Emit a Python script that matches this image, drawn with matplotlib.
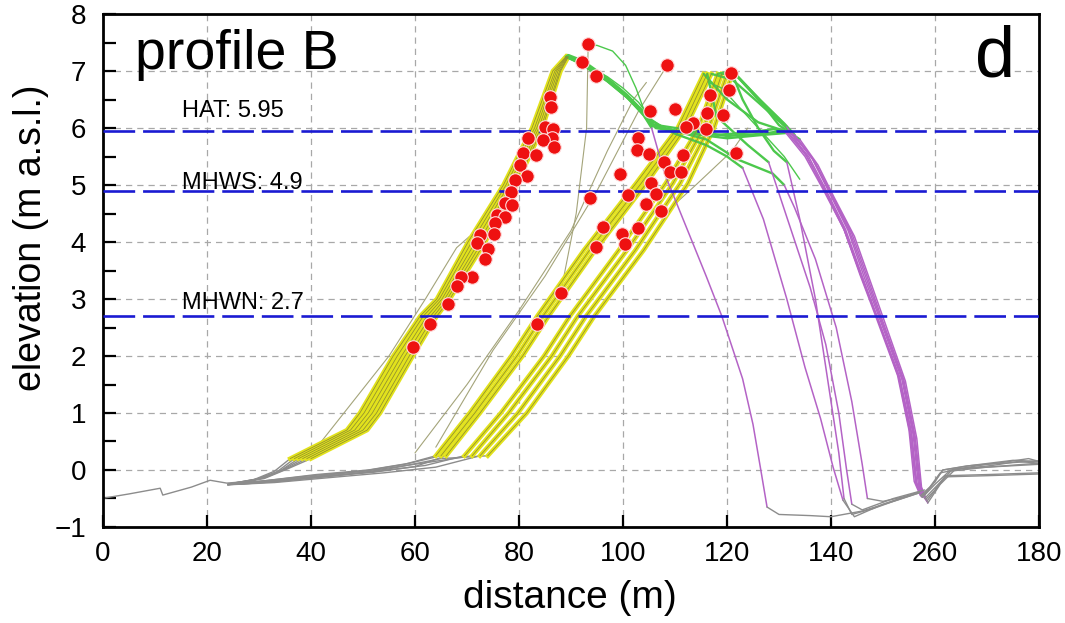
import matplotlib
matplotlib.use('Agg')
from matplotlib import pyplot as plt
from matplotlib.ticker import MultipleLocator

plt.rcParams['font.family'] = ['Liberation Sans', 'DejaVu Sans']

# tide levels (m a.s.l.)
tide_names = ['HAT: 5.95', 'MHWS: 4.9', 'MHWN: 2.7']
tide_levels = [5.95, 4.9, 2.7]
tide_label_y = [6.19, 4.93, 2.83]

x_ticks = [0, 20, 40, 60, 80, 100, 120, 140, 160, 180]
x_tick_labels = ['0', '20', '40', '60', '80', '100', '120', '140', '260', '180']

# long seaward beach line
beach_x = [0.4, 5, 11, 11.5, 17, 20.6, 23.8, 28, 32]
beach_y = [-0.49, -0.42, -0.32, -0.44, -0.3, -0.18, -0.23, -0.2, -0.1]

# ---- seaward dune (crest near 89 m) ----
g1_toe_x = [[24, 29, 33, 36.0], [24, 29, 33.5, 36.8], [25, 30, 34, 37.6],
            [24, 30, 34.5, 38.4], [25, 31, 35, 39.2], [24, 31, 35.5, 40.0]]
g1_toe_y = [[-0.25, -0.17, -0.02, 0.2], [-0.26, -0.18, -0.03, 0.2], [-0.24, -0.16, -0.02, 0.2],
            [-0.25, -0.15, 0.0, 0.2], [-0.23, -0.14, 0.01, 0.2], [-0.26, -0.15, 0.02, 0.2]]
g1_front_y = [0.2, 0.7, 1.0, 2.0, 2.7, 3.0, 4.0, 5.0, 6.0, 7.0, 7.25]
g1_front_x = [[36.0, 46.9, 49.4, 55.8, 61.0, 64.2, 70.2, 77.0, 82.5, 86.5, 89.0],
              [36.8, 47.6, 50.2, 56.6, 61.6, 64.7, 70.9, 77.5, 83.0, 86.9, 89.1],
              [37.6, 48.4, 51.0, 57.4, 62.3, 65.2, 71.6, 78.0, 83.4, 87.2, 89.2],
              [38.4, 49.2, 51.8, 58.1, 63.0, 65.7, 72.3, 78.5, 83.8, 87.5, 89.3],
              [39.2, 50.0, 52.6, 58.9, 63.6, 66.2, 72.9, 79.0, 84.2, 87.8, 89.4],
              [40.0, 50.8, 53.3, 59.6, 64.2, 66.7, 73.5, 79.5, 84.5, 88.0, 89.5]]
g1_crest_x = [[89.0, 91.5, 96.5, 100.5, 103.5, 105.5, 110, 116, 122, 128.8, 131],
              [89.1, 92, 97, 101, 104, 105.5],
              [89.2, 92.5, 97.2, 101, 104, 106, 112, 118, 124, 129, 131.8],
              [89.3, 92.8, 97.5, 101.3, 104.3, 106.3, 113, 120, 127, 132.4],
              [89.4, 93, 98, 102, 105, 110, 116, 120, 123],
              [89.5, 92.3, 96.9, 100.8, 103.8, 105.8, 113, 120, 127, 131.2]]
g1_crest_y = [[7.25, 7.15, 6.86, 6.56, 6.28, 6.04, 5.95, 5.8, 5.45, 5.2, 5.0],
              [7.25, 7.12, 6.82, 6.52, 6.22, 6.0],
              [7.26, 7.14, 6.84, 6.55, 6.27, 6.03, 5.92, 5.88, 5.92, 5.98, 5.92],
              [7.27, 7.12, 6.8, 6.5, 6.22, 6.0, 5.9, 5.82, 5.88, 5.92],
              [7.24, 7.1, 6.78, 6.45, 6.15, 5.9, 5.7, 5.5, 5.3],
              [7.28, 7.18, 6.88, 6.58, 6.3, 6.06, 5.96, 5.86, 5.9, 5.96]]
g1_back_x = [[131, 133, 137, 141, 144, 146, 147],
             [105.5, 108, 112, 116, 119, 123, 125, 126.5, 127.7],
             [131.8, 135.7, 139, 142.8, 146, 148.6, 153, 155.2, 156.3, 157.4],
             [132.4, 136.3, 139.5, 143.3, 146.4, 149, 153.6, 155.8, 156.8, 158],
             [123, 127, 131.5, 135, 138, 140.4, 142.3],
             [131.2, 135.2, 138.6, 142.4, 145.6, 148.3, 152.8, 155, 156, 157.2]]
g1_back_y = [[5.0, 4.6, 3.7, 2.5, 1.2, 0.1, -0.5],
             [6.0, 5.2, 4.3, 3.4, 2.7, 1.6, 0.8, 0.0, -0.65],
             [5.92, 5.5, 4.92, 4.22, 3.4, 2.75, 1.63, 0.65, -0.23, -0.47],
             [5.92, 5.48, 4.9, 4.2, 3.38, 2.74, 1.6, 0.62, -0.25, -0.5],
             [5.3, 4.4, 3.0, 1.8, 0.9, 0.05, -0.53],
             [5.96, 5.52, 4.95, 4.25, 3.42, 2.77, 1.66, 0.7, -0.2, -0.45]]
g1_heel_x = [[147, 150, 155],
             [127.7, 130, 136, 140, 146, 152, 157],
             [157.4, 160, 161.5, 166, 172, 178, 180],
             [158, 162, 170, 180],
             [142.3, 144.5, 150, 157],
             [157.2, 159, 161, 165, 171, 176, 180]]
g1_heel_y = [[-0.5, -0.55, -0.45],
             [-0.65, -0.78, -0.8, -0.82, -0.72, -0.55, -0.4],
             [-0.47, -0.2, 0.0, 0.07, 0.12, 0.2, 0.15],
             [-0.5, -0.12, -0.1, -0.07],
             [-0.53, -0.82, -0.6, -0.38],
             [-0.45, -0.3, -0.05, 0.02, 0.08, 0.15, 0.12]]

# ---- landward dune (crest near 115-121 m) ----
g2_toe_x = [[24, 30, 40, 50, 58, 64.0], [25, 31, 41, 51, 59, 65.0], [24, 32, 42, 52, 60, 66.0],
            [26, 32, 42, 52, 62, 69.5], [25, 33, 43, 53, 63, 71.0], [24, 33, 44, 54, 64, 72.5],
            [26, 34, 45, 55, 65, 74.0]]
g2_toe_y = [[-0.25, -0.2, -0.1, -0.02, 0.1, 0.25], [-0.24, -0.19, -0.08, 0.0, 0.12, 0.25],
            [-0.26, -0.2, -0.12, -0.04, 0.06, 0.25], [-0.25, -0.21, -0.11, -0.03, 0.08, 0.25],
            [-0.24, -0.18, -0.09, 0.01, 0.14, 0.25], [-0.26, -0.22, -0.13, -0.05, 0.05, 0.25],
            [-0.25, -0.2, -0.1, 0.02, 0.2, 0.25]]
g2_front_y = [0.25, 1.0, 2.0, 2.7, 3.86, 5.03, 6.0, 6.95]
g2_front_x = [[64.0, 70.5, 78.5, 83.5, 92.5, 102.5, 110.5, 115.5],
              [65.0, 71.5, 79.6, 84.6, 93.6, 103.5, 111.3, 116.2],
              [66.0, 72.5, 80.7, 85.7, 94.7, 104.5, 112.0, 117.0],
              [69.5, 76.5, 84.8, 89.8, 99.2, 108.2, 114.5, 118.2],
              [71.0, 78.0, 86.3, 91.3, 100.8, 109.6, 115.5, 119.0],
              [72.5, 79.8, 87.9, 92.9, 102.4, 111.0, 116.5, 120.0],
              [74.0, 81.5, 89.5, 94.5, 104.0, 112.5, 117.5, 121.0]]
g2_crest_x = [[115.5, 120, 126, 131],
              [116.2, 118, 124, 128],
              [117, 121, 126, 130.5, 132.6],
              [118.2, 121, 125.8, 130.2, 131.5],
              [119, 121.5, 126.5, 131, 133],
              [120, 122, 127, 130, 134],
              [121, 123, 126, 129, 131.5]]
g2_crest_y = [[6.95, 6.5, 6.1, 5.95],
              [6.95, 6.2, 5.7, 5.4],
              [6.95, 6.85, 6.45, 6.08, 5.9],
              [6.95, 7.0, 6.54, 6.14, 6.02],
              [6.95, 6.96, 6.48, 6.08, 5.88],
              [6.95, 6.9, 6.4, 6.05, 5.8],
              [6.95, 6.5, 6.0, 5.6, 5.4]]
g2_back_x = [[131, 135, 138.5, 142.5, 145.8, 148.5, 153.1, 155.4, 156.4, 157.6],
             [128, 132, 136, 139, 141.5, 143, 144],
             [132.6, 136.5, 139.8, 143.6, 146.8, 149.3, 153.8, 156, 157, 158.2],
             [131.5, 135.4, 138.8, 142.6, 145.9, 148.6, 153.2, 155.5, 156.5, 157.7],
             [133, 136.8, 140, 144, 147.2, 149.6, 154, 156.2, 157.2, 158.4],
             [134, 137.5, 140.5, 144.5, 147.6, 150, 154.3, 156.5, 157.4, 158.6],
             [131.5, 134, 137, 139.5, 141.5, 142.5]]
g2_back_y = [[5.95, 5.5, 4.92, 4.22, 3.4, 2.76, 1.64, 0.66, -0.22, -0.48],
             [5.4, 4.3, 3.2, 2.2, 1.0, 0.0, -0.6],
             [5.9, 5.45, 4.88, 4.18, 3.36, 2.72, 1.6, 0.6, -0.25, -0.52],
             [6.02, 5.5, 4.9, 4.2, 3.39, 2.75, 1.63, 0.65, -0.23, -0.47],
             [5.88, 5.42, 4.86, 4.15, 3.33, 2.7, 1.58, 0.58, -0.28, -0.55],
             [5.8, 5.35, 4.8, 4.1, 3.3, 2.68, 1.56, 0.55, -0.3, -0.58],
             [5.4, 4.4, 3.0, 1.5, 0.3, -0.5]]
g2_heel_x = [[157.6, 160, 163, 170, 180],
             [144, 146, 152, 158],
             [158.2, 160, 162, 170, 180],
             [157.7, 160, 161.5, 167, 175, 180],
             [158.4, 160.5, 163, 170, 180],
             [158.6, 161, 164, 180],
             [142.5, 144, 148, 152, 157]]
g2_heel_y = [[-0.48, -0.25, 0.0, 0.1, 0.16],
             [-0.6, -0.7, -0.5, -0.35],
             [-0.52, -0.35, -0.1, -0.08, -0.05],
             [-0.47, -0.2, 0.0, 0.08, 0.17, 0.15],
             [-0.55, -0.3, -0.02, 0.05, 0.12],
             [-0.58, -0.25, 0.02, 0.1],
             [-0.5, -0.78, -0.68, -0.55, -0.4]]

# extra crest surveys (green) not tied to a front
extra_green_x = [[92.5, 95, 98, 100.5, 102.5, 104.5],
                 [91.0, 94, 97, 100, 103, 105.5, 108],
                 [116.5, 119, 123, 127, 131, 134]]
extra_green_y = [[7.45, 7.45, 7.35, 7.1, 6.7, 6.2],
                 [7.2, 7.05, 6.9, 6.7, 6.45, 6.15, 6.0],
                 [6.8, 6.7, 6.3, 5.9, 5.5, 5.1]]

# odd single surveys crossing the dune fronts
thin_x = [[60, 70, 80, 90, 97, 102, 104.5],
          [64, 75, 85, 95, 103, 108.5],
          [83.4, 88, 91, 93, 93.3],
          [108, 114, 121, 124],
          [42, 55, 62, 68, 70.5]]
thin_y = [[0.3, 1.5, 2.8, 4.2, 5.6, 6.5, 6.8],
          [0.4, 2.1, 3.4, 4.9, 6.3, 7.1],
          [2.56, 3.1, 4.5, 6.0, 7.47],
          [4.5, 5.0, 5.6, 6.0],
          [0.5, 2.0, 3.0, 3.9, 4.1]]

# red markers (vegetation line positions)
dot_x = [93.3, 92.1, 94.8, 108.5, 120.7, 120.3, 116.7, 110.0, 105.2, 116.1, 119.2, 113.5,
         112.1, 116.0, 102.9, 102.6, 105.0, 111.5, 121.7, 107.9, 109.0, 111.1, 99.4, 105.3,
         106.3, 101.0, 93.7, 104.5, 107.4, 96.1, 102.9, 99.9, 94.9, 100.4, 88.0, 83.4,
         86.0, 86.1, 85.0, 86.6, 81.8, 86.3, 84.6, 86.7, 80.8, 83.3, 80.2, 81.5,
         79.2, 78.4, 77.3, 78.6, 75.7, 77.3, 75.4, 72.5, 75.2, 72.0, 74.1, 73.5,
         70.9, 68.9, 68.1, 66.4, 62.8, 59.6]
dot_y = [7.47, 7.16, 6.91, 7.11, 6.96, 6.67, 6.58, 6.33, 6.29, 6.26, 6.23, 6.08,
         6.01, 5.98, 5.82, 5.61, 5.54, 5.53, 5.57, 5.41, 5.23, 5.23, 5.19, 5.04,
         4.85, 4.82, 4.77, 4.66, 4.55, 4.27, 4.24, 4.14, 3.91, 3.96, 3.10, 2.56,
         6.54, 6.37, 6.01, 5.98, 5.82, 5.82, 5.79, 5.66, 5.56, 5.53, 5.35, 5.15,
         5.09, 4.88, 4.68, 4.65, 4.47, 4.44, 4.34, 4.12, 4.14, 3.98, 3.87, 3.71,
         3.38, 3.39, 3.23, 2.92, 2.56, 2.16]

GRAY = '#8c8c8c'
YELLOW = '#e2e21c'
OLIVE = '#8e8e30'
GREEN = '#4cc84c'
PURPLE = '#b463c6'


# draw a set of profile pieces with one colour
def draw_pieces(ax, xs, ys, color, lw, zorder=2):
    for px, py in zip(xs, ys):
        ax.plot(px, py, color=color, lw=lw, zorder=zorder, solid_capstyle='round')


# dune front: yellow band with thin dark stripes on top
def draw_front(ax, xs, y):
    for px in xs:
        ax.plot(px, y, color=YELLOW, lw=3.2, zorder=2)
    for px in xs:
        ax.plot(px, y, color=OLIVE, lw=0.55, zorder=2.1)


fig = plt.figure(figsize=(10.65, 6.23), dpi=100)
ax = fig.add_axes([0.0967, 0.1541, 0.8789, 0.8234])

ax.plot(beach_x, beach_y, color=GRAY, lw=1.0, zorder=2)
draw_pieces(ax, g1_toe_x, g1_toe_y, GRAY, 1.0)
draw_pieces(ax, g2_toe_x, g2_toe_y, GRAY, 1.0)
draw_pieces(ax, thin_x, thin_y, '#a4a47a', 0.8)
draw_front(ax, g1_front_x, g1_front_y)
draw_front(ax, g2_front_x, g2_front_y)
draw_pieces(ax, g1_crest_x, g1_crest_y, GREEN, 1.7)
draw_pieces(ax, g2_crest_x, g2_crest_y, GREEN, 1.7)
draw_pieces(ax, extra_green_x, extra_green_y, GREEN, 1.0)
draw_pieces(ax, g1_back_x, g1_back_y, PURPLE, 1.1)
draw_pieces(ax, g2_back_x, g2_back_y, PURPLE, 1.1)
draw_pieces(ax, g1_heel_x, g1_heel_y, GRAY, 1.0)
draw_pieces(ax, g2_heel_x, g2_heel_y, GRAY, 1.0)

# tide levels
for name, level, ly in zip(tide_names, tide_levels, tide_label_y):
    ax.axhline(level, color='#1a1ad2', lw=1.9, linestyle=(0, (12, 3)), zorder=3)
    ax.text(15.2, ly, name, fontsize=17, ha='left', va='baseline', zorder=5)

ax.scatter(dot_x, dot_y, s=95, color='#ee1111', edgecolors='#ffdddd',
           linewidths=0.8, zorder=4)

ax.text(6.2, 7.28, 'profile B', fontsize=40, ha='left', va='center', zorder=5)
ax.text(171.5, 7.22, 'd', fontsize=52, ha='center', va='center', zorder=5)

ax.set_xlim(0, 180)
ax.set_ylim(-1, 8)
ax.set_xticks(x_ticks)
ax.set_xticklabels(x_tick_labels)
ax.yaxis.set_major_locator(MultipleLocator(1))
ax.yaxis.set_minor_locator(MultipleLocator(0.5))
ax.tick_params(axis='both', which='both', direction='in', width=1.6,
               length=9, labelsize=20, top=False, right=False)
ax.tick_params(axis='y', pad=12)
ax.tick_params(axis='x', pad=10)
ax.grid(True, which='major', color='#a8a8a8', lw=0.9, linestyle=(0, (5, 4)), zorder=1)
ax.set_axisbelow(True)
for s in ax.spines.values():
    s.set_linewidth(2.0)

fig.text(570 / 1065, 1 - 598 / 623, 'distance (m)', fontsize=28, ha='center', va='center')
fig.text(31 / 1065, 1 - 238 / 623, 'elevation (m a.s.l.)', fontsize=27,
         rotation=90, ha='center', va='center')

plt.savefig('out.png', dpi=100)
